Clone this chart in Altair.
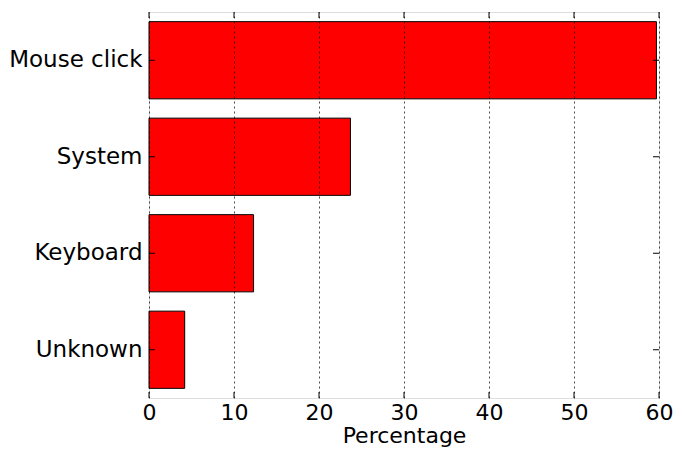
import altair as alt
import pandas as pd

categories = ["Mouse click", "System", "Keyboard", "Unknown"]
percentages = [59.7, 23.7, 12.3, 4.2]
x_ticks = [0, 10, 20, 30, 40, 50, 60]

df = pd.DataFrame({"cat": categories, "pct": percentages})
ticks_df = pd.DataFrame({"t": x_ticks})

W, H = 510, 386
FONT = "DejaVu Sans"
FS = 23
FSX = 22

x_scale = alt.Scale(domain=[0, 60], nice=False, zero=True)
y_scale = alt.Scale(domain=categories, paddingInner=0.2, paddingOuter=0.1)

x_axis = alt.Axis(
    values=x_ticks, grid=True, gridDash=[2, 3], gridColor="#000000", gridOpacity=0.7,
    gridWidth=1, ticks=False, tickSize=0, labelPadding=4, labelFontSize=FSX, labelFont=FONT,
    labelColor="#000000", labelFlush=False, labelOverlap=False, domain=False,
    title="Percentage", titleFontSize=FSX,
    titleFont=FONT, titleFontWeight="normal", titleColor="#000000",
    titleY=44, titleBaseline="alphabetic",
    zindex=1,
)
y_axis = alt.Axis(
    ticks=False, tickSize=0, labelPadding=7, labelFontSize=FS, labelFont=FONT,
    labelColor="#000000", domain=False, title=None, grid=False,
)

bars = alt.Chart(df).mark_bar(color="#ff0000", stroke="#000000", strokeWidth=1).encode(
    x=alt.X("pct:Q", scale=x_scale, axis=x_axis),
    y=alt.Y("cat:N", scale=y_scale, axis=y_axis, sort=categories),
)

bottom_ticks = alt.Chart(ticks_df).mark_rule(color="#000000", strokeWidth=1).encode(
    x=alt.X("t:Q", scale=x_scale), y=alt.value(H), y2=alt.value(H - 6)
)
top_ticks = alt.Chart(ticks_df).mark_rule(color="#000000", strokeWidth=1).encode(
    x=alt.X("t:Q", scale=x_scale), y=alt.value(0), y2=alt.value(6)
)
left_ticks = alt.Chart(df).mark_rule(color="#000000", strokeWidth=1).encode(
    y=alt.Y("cat:N", scale=y_scale, sort=categories), x=alt.value(0), x2=alt.value(6)
)
right_ticks = alt.Chart(df).mark_rule(color="#000000", strokeWidth=1).encode(
    y=alt.Y("cat:N", scale=y_scale, sort=categories), x=alt.value(W), x2=alt.value(W - 6)
)

chart = alt.layer(bars, bottom_ticks, top_ticks, left_ticks, right_ticks).properties(
    width=W, height=H,
    autosize=alt.AutoSizeParams(type="none"),
    padding={"left": 141, "top": 4, "right": 15, "bottom": 49},
).configure_view(stroke="#000000", strokeWidth=1.2).configure(background="#ffffff")

chart.save("out.html", embed_options={"renderer": "svg", "actions": False})
